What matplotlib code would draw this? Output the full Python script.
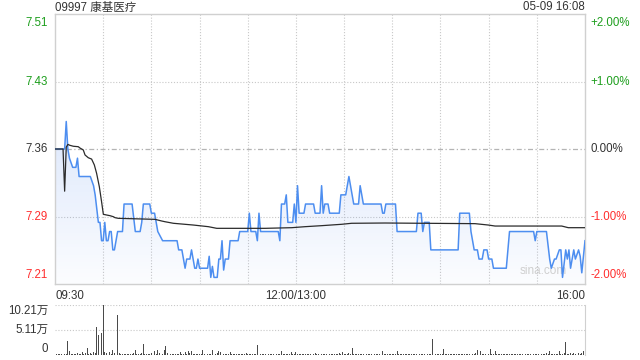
import numpy as np
import matplotlib
matplotlib.use('Agg')
import matplotlib.pyplot as plt
from matplotlib.patches import Polygon

plt.rcParams['font.family'] = ['Liberation Sans', 'Noto Sans CJK SC', 'DejaVu Sans']

# ---------------- data ----------------
stock_title = "09997 康基医疗"
timestamp = "05-09 16:08"
prev_close = 7.36
pct_levels = [2, 1, 0, -1, -2]

# minutes since 09:30 (lunch break removed; 150 = 12:00/13:00, 330 = 16:00)
price_minutes = [0, 6, 7, 8, 9, 11, 13, 14, 15, 22, 24, 25, 27, 28, 29, 30, 31, 32, 33, 34,
                 35, 36, 37, 39, 42, 43, 48, 50, 53, 54, 55, 59, 60, 62, 63, 64, 67, 76, 77, 79,
                 81, 82, 84, 85, 87, 88, 89, 90, 95, 96, 97, 98, 99, 101, 102, 103, 104, 105, 106, 108,
                 109, 114, 115, 120, 121, 122, 125, 126, 127, 128, 139, 140, 141, 143, 144, 145, 148, 149, 150, 151,
                 152, 155, 156, 161, 162, 165, 166, 167, 168, 170, 171, 177, 178, 181, 183, 186, 189, 190, 192, 203,
                 204, 205, 206, 212, 213, 225, 226, 228, 229, 230, 233, 234, 251, 252, 258, 259, 261, 263, 264, 266,
                 267, 269, 270, 272, 273, 281, 283, 298, 299, 300, 306, 308, 309, 311, 312, 314, 315, 316, 318, 319,
                 320, 321, 322, 323, 324, 326, 327, 328, 330]
price_values = [7.36, 7.36, 7.39, 7.36, 7.35, 7.34, 7.34, 7.35, 7.33, 7.33, 7.32, 7.31, 7.28, 7.28, 7.26, 7.26, 7.28, 7.26, 7.26, 7.27,
                7.27, 7.25, 7.25, 7.27, 7.27, 7.30, 7.30, 7.27, 7.27, 7.28, 7.30, 7.30, 7.29, 7.29, 7.28, 7.27, 7.26, 7.26, 7.25, 7.25,
                7.23, 7.24, 7.24, 7.25, 7.23, 7.23, 7.24, 7.23, 7.23, 7.243, 7.22, 7.232, 7.22, 7.22, 7.24, 7.24, 7.26, 7.228, 7.24, 7.24,
                7.26, 7.26, 7.27, 7.27, 7.29, 7.27, 7.27, 7.26, 7.29, 7.27, 7.27, 7.26, 7.30, 7.30, 7.31, 7.28, 7.28, 7.30, 7.28, 7.32,
                7.29, 7.29, 7.30, 7.30, 7.29, 7.29, 7.32, 7.29, 7.30, 7.30, 7.29, 7.29, 7.31, 7.31, 7.33, 7.30, 7.30, 7.32, 7.30, 7.30,
                7.29, 7.29, 7.30, 7.30, 7.27, 7.27, 7.29, 7.29, 7.27, 7.28, 7.28, 7.25, 7.25, 7.29, 7.29, 7.27, 7.25, 7.25, 7.24, 7.24,
                7.25, 7.25, 7.24, 7.24, 7.23, 7.23, 7.27, 7.27, 7.26, 7.27, 7.27, 7.24, 7.23, 7.24, 7.24, 7.25, 7.25, 7.22, 7.25, 7.24,
                7.25, 7.23, 7.24, 7.25, 7.24, 7.25, 7.243, 7.225, 7.26]

avg_minutes = [0, 5, 6, 7, 8, 9.3, 11.4, 14.5, 15.6, 17.6, 18.7, 20.7, 22.8, 24.5, 25.9, 27.6, 29, 30.1, 32.2, 34.2,
               36.3, 37.4, 39.4, 54, 62.3, 66.4, 68.5, 73.7, 86.1, 95.5, 100.7, 130.7, 147.4, 155.7, 166, 178.5, 184.7, 205.5, 261.5, 269.8,
               274, 315.5, 319.6, 330]
avg_values = [7.36, 7.36, 7.314, 7.362, 7.365, 7.364, 7.363, 7.3625, 7.361, 7.359, 7.3535, 7.3505, 7.349, 7.3426, 7.3335, 7.3189, 7.3025, 7.2888, 7.288, 7.2873,
              7.2862, 7.2851, 7.2844, 7.2837, 7.2833, 7.2815, 7.2807, 7.279, 7.2771, 7.2753, 7.2735, 7.2735, 7.2742, 7.2753, 7.2764, 7.2779, 7.279, 7.2793, 7.2786, 7.2771,
              7.276, 7.276, 7.2742, 7.2742]

# volume per minute, thousand shares (minute 0 .. 330)
volume_k = [
    2, 1, 1, 2, 1, 2, 1, 2, 27, 8, 2, 1, 2, 1, 3, 2, 1, 6, 2, 3, 14, 2, 4, 2, 5, 3, 57, 40, 41, 44,
    102.1, 5, 4, 2, 6, 2, 10, 3, 15, 81, 3, 2, 1, 2, 1, 2, 1, 2, 1, 3, 9, 2, 1, 2, 3, 21, 2, 1, 2, 1,
    3, 13, 7, 2, 9, 3, 37, 2, 9, 18, 3, 2, 1, 2, 1, 2, 1, 2, 6, 2, 1, 6, 2, 8, 3, 7, 2, 1, 2, 1,
    2, 1, 9, 2, 1, 2, 1, 2, 9, 2, 1, 3, 7, 6, 2, 1, 2, 1, 2, 6, 2, 1, 2, 1, 2, 1, 2, 1, 2, 4,
    1, 2, 1, 2, 1, 2, 20, 2, 1, 2, 1, 2, 1, 2, 1, 2, 1, 2, 1, 2, 1, 8, 2, 1, 2, 1, 2, 6, 1, 2,
    6, 2, 1, 2, 1, 2, 1, 2, 1, 2, 1, 2, 4, 1, 2, 1, 2, 1, 2, 1, 2, 1, 2, 1, 2, 1, 2, 3, 2, 5,
    2, 1, 2, 3, 2, 13, 2, 1, 2, 1, 2, 1, 2, 1, 2, 1, 2, 1, 2, 1, 2, 1, 2, 3, 8, 2, 1, 2, 1, 2,
    1, 2, 1, 7, 2, 1, 2, 1, 2, 1, 2, 1, 2, 1, 2, 1, 2, 1, 2, 1, 2, 1, 2, 1, 2, 32, 2, 1, 2, 1,
    2, 1, 12, 2, 1, 2, 1, 2, 1, 2, 1, 2, 1, 2, 1, 2, 1, 2, 1, 2, 1, 2, 3, 9, 2, 7, 1, 2, 1, 2,
    2, 12, 1, 2, 8, 2, 1, 2, 1, 2, 1, 2, 1, 2, 1, 2, 1, 2, 1, 2, 1, 2, 1, 2, 1, 2, 1, 2, 1, 2,
    1, 2, 1, 2, 1, 2, 3, 2, 8, 2, 1, 2, 1, 2, 7, 2, 1, 3, 26, 2, 1, 3, 2, 4, 2, 1, 3, 2, 3, 7, 2]
volume_ticks = [0, 51050, 102100]
volume_tick_labels = ["0", "5.11万", "10.21万"]

time_labels = ["09:30", "12:00/13:00", "16:00"]
time_label_minutes = [0, 150, 330]
total_minutes = 330

# ---------------- style ----------------
GREEN = '#1d9e1d'
RED = '#ff2d2d'
DARK = '#333333'
GRID = '#c8c8c8'
SPINE = '#d0d0d0'
LINE_BLUE = '#4d8ef0'
FS = 8.3

fig = plt.figure(figsize=(6.4, 3.6), dpi=100)
W, H = 640.0, 360.0

def fr(x0, y0, x1, y1):
    return [x0 / W, 1 - y1 / H, (x1 - x0) / W, (y1 - y0) / H]

ax = fig.add_axes(fr(55, 14, 585, 284))
axv = fig.add_axes(fr(55, 305, 585, 354.5))

ymax = prev_close * (1 + max(pct_levels) / 100)
ymin = prev_close * (1 + min(pct_levels) / 100)
ax.set_xlim(0, total_minutes)
ax.set_ylim(ymin, ymax)

# gridlines
for m in range(30, total_minutes, 30):
    ax.axvline(m, color=GRID, lw=0.8, ls=(0, (1, 1.6)), zorder=1)
for p in pct_levels:
    if p == 0:
        ax.axhline(prev_close, color='#b4b4b4', lw=0.9, ls=(0, (4, 2, 1, 2)), zorder=1)
    elif abs(p) == 1:
        ax.axhline(prev_close * (1 + p / 100), color=GRID, lw=0.8, ls=(0, (1, 1.6)), zorder=1)

# gradient fill under price line
pm = np.array(price_minutes, dtype=float)
pv = np.array(price_values, dtype=float)
verts = np.vstack([np.column_stack([pm, pv]), [[pm[-1], ymin], [pm[0], ymin]]])
poly = Polygon(verts, closed=True, facecolor='none', edgecolor='none')
ax.add_patch(poly)
grad = np.zeros((256, 2, 4))
grad[..., 0] = 0.30
grad[..., 1] = 0.52
grad[..., 2] = 0.94
alpha = np.linspace(0.20, 0.02, 256)[:, None]
grad[..., 3] = alpha
im = ax.imshow(grad, extent=[0, total_minutes, ymin, prev_close * 1.005], origin='upper',
               aspect='auto', zorder=2, interpolation='bilinear')
im.set_clip_path(poly)

ax.plot(pm, pv, color=LINE_BLUE, lw=1.1, zorder=4)
ax.plot(avg_minutes, avg_values, color='#2b2b2b', lw=0.9, zorder=5)

ax.set_xticks([])
ax.set_yticks([])
for s in ax.spines.values():
    s.set_color(SPINE)
    s.set_linewidth(1.0)

# price / percent labels
for p in pct_levels:
    val = prev_close * (1 + p / 100)
    col = GREEN if p > 0 else (RED if p < 0 else DARK)
    va = 'center'
    off = 0
    if p == max(pct_levels):
        va, off = 'top', -2
    elif p == min(pct_levels):
        va, off = 'bottom', 2
    ax.annotate(f"{val:.2f}", xy=(0, val), xycoords=('axes fraction', 'data'),
                xytext=(-5, off), textcoords='offset points', ha='right', va=va,
                color=col, fontsize=FS)
    ax.annotate(f"{p:+.2f}%" if p != 0 else "0.00%", xy=(1, val), xycoords=('axes fraction', 'data'),
                xytext=(4, off), textcoords='offset points', ha='left', va=va,
                color=col, fontsize=FS)

# time labels
for lbl, m in zip(time_labels, time_label_minutes):
    ha = 'left' if m == 0 else ('right' if m == total_minutes else 'center')
    ax.annotate(lbl, xy=(m, 0), xycoords=('data', 'axes fraction'), xytext=(0, -4),
                textcoords='offset points', ha=ha, va='top', color=DARK, fontsize=FS)

# title and time stamp
fig.text(55 / W, 1 - 7.5 / H, stock_title, ha='left', va='center', color=DARK, fontsize=FS)
fig.text(585 / W, 1 - 7.5 / H, timestamp, ha='right', va='center', color=DARK, fontsize=FS)

# watermark
ax.text(0.965, 0.025, "sina.com", transform=ax.transAxes, ha='right', va='bottom',
        color='#cfcfcf', fontsize=8.5, zorder=3)

# ---------------- volume ----------------
vm = np.arange(len(volume_k))
vv = np.array(volume_k) * 1000.0
axv.bar(vm, vv, width=0.55, color='#4a4a4a', linewidth=0)
axv.set_xlim(0, total_minutes)
axv.set_ylim(0, volume_ticks[-1])
for t in volume_ticks[1:]:
    axv.axhline(t, color=GRID, lw=0.8, ls=(0, (1, 1.6)), zorder=0)
axv.set_xticks([])
axv.set_yticks([])
for k, s in axv.spines.items():
    if k in ('top', 'bottom', 'left'):
        s.set_visible(False)
    else:
        s.set_color(SPINE)
for t, lbl in zip(volume_ticks, volume_tick_labels):
    va, off = 'center', 0
    if t == volume_ticks[-1]:
        va, off = 'top', 0
    elif t == 0:
        va, off = 'bottom', 0
    axv.annotate(lbl, xy=(0, t), xycoords=('axes fraction', 'data'), xytext=(-5, off),
                 textcoords='offset points', ha='right', va=va, color=DARK, fontsize=FS)

fig.savefig('out.png', dpi=100)
